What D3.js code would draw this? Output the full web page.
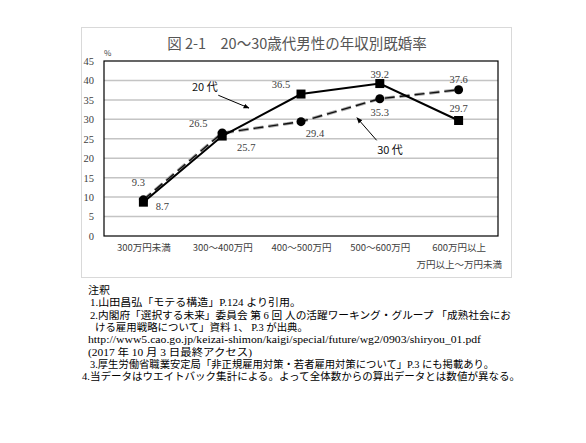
<!DOCTYPE html>
<html>
<head>
<meta charset="utf-8">
<script src="https://cdn.jsdelivr.net/npm/d3@7"></script>
<style>
  body { margin: 0; background: #fff; }
  svg { display: block; }
</style>
</head>
<body>
<svg id="chart" width="586" height="443"></svg>
<script>
// chart data
var categories = ["300万円未満", "300～400万円", "400～500万円", "500～600万円", "600万円以上"];
var twenties = [8.7, 25.7, 36.5, 39.2, 29.7];
var thirties = [9.3, 26.5, 29.4, 35.3, 37.6];
var yTicks = [0, 5, 10, 15, 20, 25, 30, 35, 40, 45];
var title = "図 2-1　20～30歳代男性の年収別既婚率";
var notes = [
  "注釈",
  "1.山田昌弘「モテる構造」P.124 より引用。",
  "2.内閣府「選択する未来」委員会  第 6 回  人の活躍ワーキング・グループ 「成熟社会にお",
  "ける雇用戦略について」資料 1、  P.3 が出典。",
  "http://www5.cao.go.jp/keizai-shimon/kaigi/special/future/wg2/0903/shiryou_01.pdf",
  "(2017 年 10 月 3 日最終アクセス)",
  "3.厚生労働省職業安定局「非正規雇用対策・若者雇用対策について」P.3 にも掲載あり。",
  "4.当データはウエイトバック集計による。よって全体数からの算出データとは数値が異なる。"
];

// label offsets (px) for each point
var offs20 = [[19, 8], [24, 15], [-20, -6], [0, -6], [0, -9]];
var offs30 = [[-5, -14], [-24, -6], [14, 15], [0, 17], [0, -7]];

// layout of the note lines
var noteX = [88, 90, 90, 95, 88, 88, 90, 82];
var noteW = [22, 211, 421, 213, 393, 164, 404, 438];

var svg = d3.select("#chart");
var plotL = 104, plotR = 498, plotT = 61, plotB = 236;
var serif = "'Liberation Serif', 'Noto Sans CJK JP', serif";
var sans = "'Noto Sans CJK JP', sans-serif";

var x = d3.scalePoint().domain(categories).range([plotL, plotR]).padding(0.5);
var y = d3.scaleLinear().domain([0, 45]).range([plotB, plotT]);
// fractional category position, for the arrow notes
var xi = d3.scaleLinear().domain([0, categories.length - 1])
  .range([x(categories[0]), x(categories[categories.length - 1])]);

// outer frame
svg.append("rect")
   .attr("x", 81.5).attr("y", 27.5)
   .attr("width", 430).attr("height", 250)
   .attr("fill", "#fff")
   .attr("stroke", "#d9d9d9")
   .attr("stroke-width", 1);

svg.append("text")
   .attr("x", 297).attr("y", 49)
   .attr("text-anchor", "middle")
   .attr("font-family", sans)
   .attr("font-size", 14.5)
   .attr("fill", "#555")
   .text(title);

// grid
svg.append("g")
   .selectAll("line")
   .data(yTicks.filter(function(d) { return d > 0 && d < 45; }))
   .join("line")
   .attr("x1", plotL).attr("x2", plotR)
   .attr("y1", function(d) { return y(d); })
   .attr("y2", function(d) { return y(d); })
   .attr("stroke", "#c4c4c4")
   .attr("stroke-width", 1.5);

svg.append("rect")
   .attr("x", plotL).attr("y", plotT)
   .attr("width", plotR - plotL).attr("height", plotB - plotT)
   .attr("fill", "none")
   .attr("stroke", "#000")
   .attr("stroke-width", 1.2);

// y axis
var yAxis = d3.axisLeft(y).tickValues(yTicks).tickSize(0).tickPadding(10);
var gy = svg.append("g").attr("transform", "translate(" + plotL + ",0)").call(yAxis);
gy.select(".domain").remove();
gy.selectAll("text")
  .attr("font-family", serif)
  .attr("font-size", 10.5)
  .attr("fill", "#404040");

svg.append("text")
   .attr("x", 104).attr("y", 56)
   .attr("font-family", sans)
   .attr("font-size", 8)
   .attr("fill", "#404040")
   .text("%");

// x axis
var xAxis = d3.axisBottom(x).tickSize(0).tickPadding(8);
var gx = svg.append("g").attr("transform", "translate(0," + plotB + ")").call(xAxis);
gx.select(".domain").remove();
gx.selectAll("text")
  .attr("font-family", sans)
  .attr("font-size", 9.5)
  .attr("fill", "#404040");

svg.append("text")
   .attr("x", 502).attr("y", 268)
   .attr("text-anchor", "end")
   .attr("font-family", sans)
   .attr("font-size", 9.5)
   .attr("fill", "#404040")
   .text("万円以上～万円未満");

// lines
var line = d3.line()
  .x(function(d, i) { return x(categories[i]); })
  .y(function(d) { return y(d); });

svg.append("path")
   .datum(thirties)
   .attr("d", line)
   .attr("fill", "none")
   .attr("stroke", "#a8a8a8")
   .attr("stroke-width", 3.2)
   .attr("stroke-dasharray", "10,5");
svg.append("path")
   .datum(thirties)
   .attr("d", line)
   .attr("fill", "none")
   .attr("stroke", "#111")
   .attr("stroke-width", 1.4)
   .attr("stroke-dasharray", "10,5");

svg.append("path")
   .datum(twenties)
   .attr("d", line)
   .attr("fill", "none")
   .attr("stroke", "#000")
   .attr("stroke-width", 2);

svg.append("g")
   .selectAll("circle")
   .data(thirties)
   .join("circle")
   .attr("cx", function(d, i) { return x(categories[i]); })
   .attr("cy", function(d) { return y(d); })
   .attr("r", 4.5)
   .attr("fill", "#000");

svg.append("g")
   .selectAll("rect")
   .data(twenties)
   .join("rect")
   .attr("x", function(d, i) { return x(categories[i]) - 4.5; })
   .attr("y", function(d) { return y(d) - 4.5; })
   .attr("width", 9).attr("height", 9)
   .attr("fill", "#000");

// value labels
function addLabels(values, offs) {
  svg.append("g")
     .selectAll("text")
     .data(values)
     .join("text")
     .attr("x", function(d, i) { return x(categories[i]) + offs[i][0]; })
     .attr("y", function(d, i) { return y(d) + offs[i][1]; })
     .attr("text-anchor", "middle")
     .attr("font-family", serif)
     .attr("font-size", 10.5)
     .attr("fill", "#404040")
     .text(function(d) { return d.toFixed(1); });
}
addLabels(twenties, offs20);
addLabels(thirties, offs30);

// arrow notes
svg.append("defs").append("marker")
   .attr("id", "head")
   .attr("viewBox", "0 0 10 10")
   .attr("refX", 9).attr("refY", 5)
   .attr("markerWidth", 6).attr("markerHeight", 6)
   .attr("orient", "auto")
   .append("path")
   .attr("d", "M0,1L10,5L0,9Z")
   .attr("fill", "#000");

var notesArrows = [
  { text: "20 代", tx: 0.78, ty: 37.3, x1: 0.95, y1: 36.2, x2: 1.34, y2: 32.9 },
  { text: "30 代", tx: 3.13, ty: 21.0, x1: 2.96, y1: 24.6, x2: 2.71, y2: 30.4 }
];
notesArrows.forEach(function(n) {
  svg.append("line")
     .attr("x1", xi(n.x1)).attr("y1", y(n.y1))
     .attr("x2", xi(n.x2)).attr("y2", y(n.y2))
     .attr("stroke", "#000")
     .attr("stroke-width", 1)
     .attr("marker-end", "url(#head)");
  svg.append("text")
     .attr("x", xi(n.tx)).attr("y", y(n.ty))
     .attr("text-anchor", "middle")
     .attr("font-family", sans)
     .attr("font-size", 11)
     .attr("fill", "#111")
     .text(n.text);
});

// notes below the chart
svg.append("g")
   .selectAll("text")
   .data(notes)
   .join("text")
   .attr("x", function(d, i) { return noteX[i]; })
   .attr("y", function(d, i) { return 294 + i * 12.3; })
   .attr("font-family", serif)
   .attr("font-size", 10.5)
   .attr("fill", "#000")
   .attr("textLength", function(d, i) { return noteW[i]; })
   .attr("lengthAdjust", "spacingAndGlyphs")
   .text(function(d) { return d; });
</script>
</body>
</html>
